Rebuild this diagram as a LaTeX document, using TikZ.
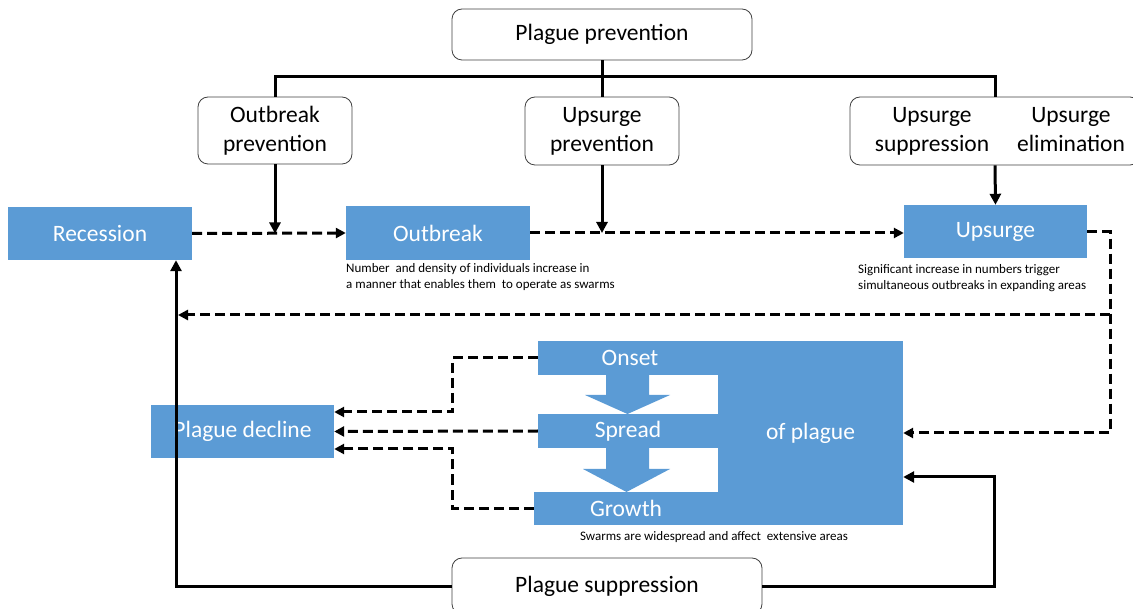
\documentclass[tikz,border=0pt]{standalone}
\usepackage{fontspec}
\setmainfont{Carlito}
\usetikzlibrary{positioning,arrows.meta}
\definecolor{danube}{RGB}{91,155,213}
\tikzset{bluebox/.style={fill=danube,text=white,inner sep=0pt,font=\fontsize{23.5}{28}\selectfont}}
\tikzset{whitebox/.style={draw=black!75,line width=0.8pt,rounded corners=10pt,fill=white,align=center,inner sep=0pt,font=\fontsize{23.5}{29}\selectfont}}
\tikzset{boxtext/.style={align=center,anchor=north,inner sep=0pt,font=\fontsize{23.5}{29}\selectfont}}
\tikzset{solidline/.style={line width=3pt}}
\tikzset{solidarrow/.style={-{Triangle[length=11pt,width=11pt]},line width=3pt}}
\tikzset{dasharrow/.style={-{Triangle[length=10pt,width=10pt]},line width=3pt,dash pattern=on 10pt off 5pt}}
\tikzset{note/.style={align=left,inner sep=0pt,font=\fontsize{13}{16}\selectfont}}

\begin{document}
\begin{tikzpicture}[x=1pt,y=-1pt]
	\useasboundingbox (0,0) rectangle (1133,609);
	% control boxes
	\node[whitebox,minimum width=300pt,minimum height=51pt] (plagueprev) at (602,34.5) {Plague prevention};
	\node[whitebox,minimum width=154pt,minimum height=67pt] (outprev) at (275,130.5) {Outbreak\\prevention};
	\node[whitebox,minimum width=154pt,minimum height=68pt] (upprev) at (602,131) {Upsurge\\prevention};
	\node[whitebox,minimum width=290pt,minimum height=68pt] (upctrl) at (995,131) {};
	\node[boxtext] (upsupp) at (932,107) {Upsurge\\suppression};
	\node[boxtext] (upelim) at (1071,107) {Upsurge\\elimination};
	\node[whitebox,minimum width=310pt,minimum height=56pt] (plaguesupp) at (607,586) {Plague suppression};
	% stages
	\node[bluebox,minimum width=184pt,minimum height=53pt] (recession) at (100,233.5) {Recession};
	\node[bluebox,minimum width=184pt,minimum height=54pt] (outbreak) at (438,233) {Outbreak};
	\node[bluebox,minimum width=183pt,minimum height=53pt] (upsurge) at (995.5,231.5) {Upsurge};
	\node[bluebox,minimum width=183pt,minimum height=53pt] (decline) at (242.5,431.5) {Plague decline};
	\node[bluebox,minimum width=185pt,minimum height=184pt] (plague) at (810.5,433) {of plague};
	\node[bluebox,minimum width=184pt,minimum height=34pt] (onset) at (630,358) {Onset};
	\node[bluebox,minimum width=180pt,minimum height=34pt] (spread) at (628,431) {Spread};
	\node[bluebox,minimum width=184pt,minimum height=33pt] (growth) at (626,508.5) {Growth};
	\fill[danube] (606,375) -- (649,375) -- (649,395) -- (670,395) -- (627.5,414) -- (585,395) -- (606,395) -- cycle;
	\fill[danube] (606,448) -- (649,448) -- (649,469) -- (670,469) -- (626.5,492) -- (583,469) -- (606,469) -- cycle;
	% notes
	\node[note,anchor=north west] (outnote) at (346,263) {Number\ \ and density of individuals increase in\\a manner that enables them\ \ to operate as swarms};
	\node[note,anchor=north west] (upnote) at (858,264) {Significant increase in numbers trigger\\simultaneous outbreaks in expanding areas};
	\node[note] (swarmnote) at (714,537) {Swarms are widespread and affect\ \ extensive areas};
	% connectors
	\coordinate (bus) at (602,77);
	\coordinate (dropR) at (1110,433);
	\coordinate (returnR) at (1110,315);
	\coordinate (returnL) at (178,315);
	\coordinate (riseL) at (176,583);
	\coordinate (riseR) at (994,477);
	\draw[solidline] (plagueprev.south) -- (upprev.north);
	\draw[solidline] (outprev.north) |- (bus) -| (upctrl.north);
	\draw[solidarrow] (outprev.south) -- (outprev.south |- recession.east);
	\draw[solidarrow] (upprev.south) -- (upprev.south |- outbreak.east);
	\draw[solidarrow] (upctrl.south) -- (upsurge.north);
	\draw[dasharrow] (recession.east) -- (outbreak.west);
	\draw[dasharrow] (outbreak.east) -- (outbreak.east -| upsurge.west);
	\draw[dasharrow] (upsurge.east) -| (dropR) -- (plague.east);
	\draw[dasharrow] (returnR) -- (returnL);
	\draw[dasharrow] (onset.west) -- ++(-85,0) |- ([yshift=19.5pt]decline.east);
	\draw[dasharrow] (spread.west) -- (decline.east);
	\draw[dasharrow] (growth.west) -- ++(-81,0) |- ([yshift=-17.5pt]decline.east);
	\draw[solidarrow] (plaguesupp.west) -| (riseL |- recession.south);
	\draw[solidarrow] (plaguesupp.east) -| (riseR) -- (riseR -| plague.east);
\end{tikzpicture}
\end{document}
